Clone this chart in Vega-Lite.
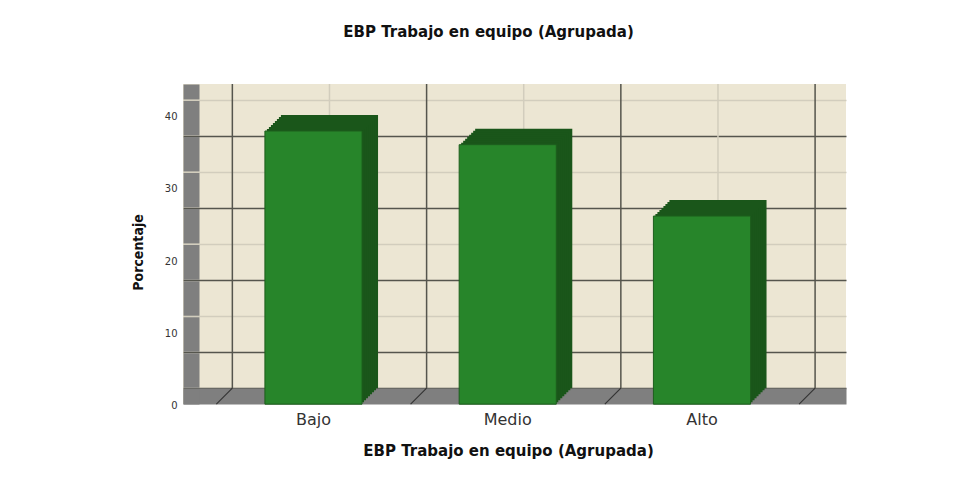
{
  "$schema": "https://vega.github.io/schema/vega-lite/v6.json",
  "width": 663,
  "height": 320,
  "autosize": {"type": "none"},
  "padding": {"left": 183, "top": 84, "right": 115, "bottom": 87},
  "background": "white",
  "config": {"view": {"fill": "#ECE6D3", "stroke": null}, "font": "DejaVu Sans"},
  "title": {"text": "EBP Trabajo en equipo (Agrupada)", "font": "DejaVu Sans", "fontSize": 15, "fontWeight": "bold", "color": "#111111", "anchor": "middle", "frame": "group", "dx": -26, "baseline": "alphabetic", "offset": 31},
  "data": {"values": [
    {"cat": "Bajo", "pct": 37.9},
    {"cat": "Medio", "pct": 36.0},
    {"cat": "Alto", "pct": 26.1}
  ]},
  "encoding": {
    "x": {"field": "cat", "type": "nominal", "sort": null,
      "scale": {"paddingInner": 0.5, "paddingOuter": 0.4566, "align": 0.552},
      "axis": {"title": "EBP Trabajo en equipo (Agrupada)", "grid": false, "ticks": false,
        "domainColor": "#7f7f7f", "domainWidth": 16, "offset": -8,
        "labelPadding": 15, "labelOffset": -16, "labelAngle": 0,
        "labelFont": "DejaVu Sans", "labelFontSize": 16, "labelColor": "#333333",
        "titleFont": "DejaVu Sans", "titleFontSize": 15, "titleFontWeight": "bold", "titleColor": "#111111",
        "titlePadding": 16, "titleX": 325}},
    "y": {"field": "pct", "type": "quantitative",
      "scale": {"domain": [-2.2, 42.2], "nice": false, "zero": false},
      "axis": {"title": "Porcentaje", "values": [0, 5, 10, 15, 20, 25, 30, 35, 40],
        "labelExpr": "datum.value % 10 === 0 ? datum.label : ''",
        "grid": true,
        "gridColor": {"condition": {"test": "datum.value % 10 !== 0 || datum.value === 0", "value": "#55554d"}, "value": "#d2cdbd"},
        "gridWidth": 1.5,
        "domainColor": "#7f7f7f", "domainWidth": 16, "offset": -8,
        "domainDash": [34.536, 1.5], "domainDashOffset": 19.28,
        "tickSize": 8, "tickOpacity": 0,
        "labelPadding": 6, "labelOffset": 17,
        "labelFont": "DejaVu Sans", "labelFontSize": 10, "labelColor": "#333333",
        "titleFont": "DejaVu Sans Condensed", "titleFontSize": 14, "titleFontWeight": "bold", "titleColor": "#111111",
        "titlePadding": 19, "titleY": 168}}
  },
  "layer": [
    {"mark": {"type": "rule", "color": "#d2cdbd", "strokeWidth": 1.5},
     "encoding": {"y": {"datum": 0}, "y2": {"datum": 42.2}}},
    {"mark": {"type": "rule", "color": "#55554d", "strokeWidth": 1.5},
     "encoding": {"x": {"field": "cat", "type": "nominal", "sort": null, "bandPosition": -0.5}, "y": {"datum": 0}, "y2": {"datum": 42.2}}},
    {"transform": [{"filter": "datum.cat === 'Alto'"}],
     "mark": {"type": "rule", "color": "#55554d", "strokeWidth": 1.5},
     "encoding": {"x": {"field": "cat", "type": "nominal", "sort": null, "bandPosition": 1.5}, "y": {"datum": 0}, "y2": {"datum": 42.2}}},
    {"mark": {"type": "point", "shape": "M-1,1L1,-1", "size": 256, "filled": false, "stroke": "#333333", "strokeWidth": 1.2, "opacity": 1, "xOffset": -8, "yOffset": 8},
     "encoding": {"x": {"field": "cat", "type": "nominal", "sort": null, "bandPosition": -0.5}, "y": {"datum": 0}}},
    {"transform": [{"filter": "datum.cat === 'Alto'"}],
     "mark": {"type": "point", "shape": "M-1,1L1,-1", "size": 256, "filled": false, "stroke": "#333333", "strokeWidth": 1.2, "opacity": 1, "xOffset": -8, "yOffset": 8},
     "encoding": {"x": {"field": "cat", "type": "nominal", "sort": null, "bandPosition": 1.5}, "y": {"datum": 0}}},
    {"mark": {"type": "bar", "color": "#1a561a", "xOffset": 0, "yOffset": 0, "y2Offset": 0}},
    {"mark": {"type": "bar", "color": "#1a561a", "xOffset": -2, "yOffset": 2, "y2Offset": 2}},
    {"mark": {"type": "bar", "color": "#1a561a", "xOffset": -4, "yOffset": 4, "y2Offset": 4}},
    {"mark": {"type": "bar", "color": "#1a561a", "xOffset": -6, "yOffset": 6, "y2Offset": 6}},
    {"mark": {"type": "bar", "color": "#1a561a", "xOffset": -8, "yOffset": 8, "y2Offset": 8}},
    {"mark": {"type": "bar", "color": "#1a561a", "xOffset": -10, "yOffset": 10, "y2Offset": 10}},
    {"mark": {"type": "bar", "color": "#1a561a", "xOffset": -12, "yOffset": 12, "y2Offset": 12}},
    {"mark": {"type": "bar", "color": "#1a561a", "xOffset": -14, "yOffset": 14, "y2Offset": 14}},
    {"mark": {"type": "bar", "color": "#27852a", "stroke": "#1d5e1d", "strokeWidth": 1, "xOffset": -16, "yOffset": 16, "y2Offset": 16}}
  ]
}
